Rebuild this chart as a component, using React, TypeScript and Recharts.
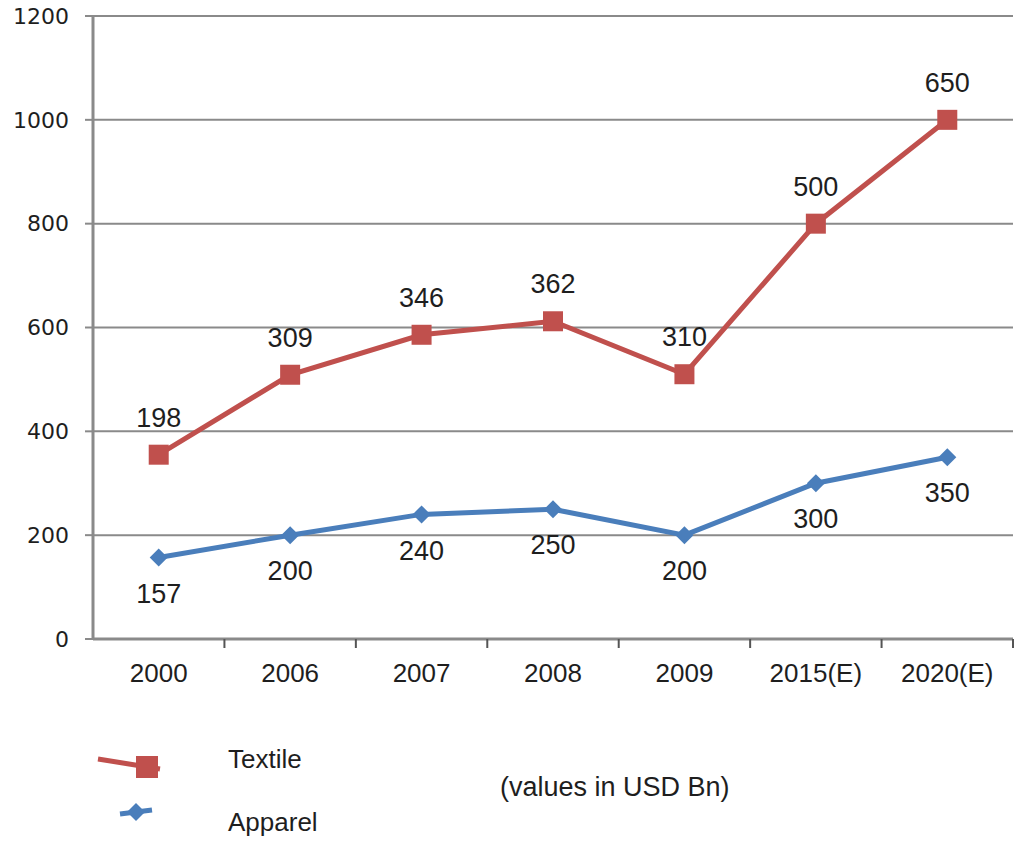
import React from 'react';
import { LineChart, Line, XAxis, YAxis, CartesianGrid, LabelList } from 'recharts';

const categories = ['2000', '2006', '2007', '2008', '2009', '2015(E)', '2020(E)'];
const textile = [198, 309, 346, 362, 310, 500, 650];
const apparel = [157, 200, 240, 250, 200, 300, 350];
const yTicks = [0, 200, 400, 600, 800, 1000, 1200];
const legendNames = ['Textile', 'Apparel'];
const note = '(values in USD Bn)';

const RED = '#C0504D';
const BLUE = '#4A7EBB';
const GRID = '#8a8a8a';
const TEXT = '#1e1e1e';

// Textile is drawn stacked on top of Apparel; labels show raw values.
const data = categories.map((c, i) => ({
  year: c,
  apparel: apparel[i],
  textile: textile[i],
  textileStacked: apparel[i] + textile[i],
}));

const CHART_W = 1016;
const CHART_H = 846;
const MARGIN = { top: 16, right: 3, left: 0, bottom: 0 };
const Y_W = 93;
const X_H = 207;
const STEP = (CHART_W - MARGIN.left - MARGIN.right - Y_W) / categories.length;
const FONT = "'Liberation Sans', Arial, sans-serif";

const SquareDot = (props: any) => {
  const { cx, cy, index } = props;
  if (cx == null || cy == null) return <g key={`s${index}`} />;
  return <rect key={`s${index}`} x={cx - 10} y={cy - 10} width={20} height={20} fill={RED} />;
};

const DiamondDot = (props: any) => {
  const { cx, cy, index } = props;
  if (cx == null || cy == null) return <g key={`d${index}`} />;
  const r = 9;
  return (
    <polygon
      key={`d${index}`}
      points={`${cx},${cy - r} ${cx + r},${cy} ${cx},${cy + r} ${cx - r},${cy}`}
      fill={BLUE}
    />
  );
};

const XTick = (props: any) => {
  const { x, y, payload } = props;
  const axisY = 639;
  return (
    <g>
      <line x1={x + STEP / 2} x2={x + STEP / 2} y1={axisY} y2={axisY + 9} stroke="#555" strokeWidth={2} />
      <text x={x} y={axisY + 34} textAnchor="middle" dominantBaseline="central" fontFamily={FONT} fontSize={26} fill={TEXT}>
        {payload.value}
      </text>
    </g>
  );
};

const LegendOverlay = () => (
  <svg width={700} height={110} style={{ position: 'absolute', left: 90, top: 735, display: 'block' }}>
    <line x1={8} y1={24} x2={70} y2={34} stroke={RED} strokeWidth={5} />
    <rect x={46} y={21} width={22} height={22} fill={RED} />
    <text x={138} y={24} dominantBaseline="central" fontFamily={FONT} fontSize={26} fill={TEXT}>
      {legendNames[0]}
    </text>
    <line x1={30} y1={79} x2={62} y2={75} stroke={BLUE} strokeWidth={5} />
    <polygon points="46,68 55,77 46,86 37,77" fill={BLUE} />
    <text x={138} y={87} dominantBaseline="central" fontFamily={FONT} fontSize={26} fill={TEXT}>
      {legendNames[1]}
    </text>
    <text x={410} y={52} dominantBaseline="central" fontFamily={FONT} fontSize={27} fill={TEXT}>
      {note}
    </text>
  </svg>
);

export default function App() {
  return (
    <div style={{ position: 'absolute', left: 0, top: 0, width: CHART_W, height: CHART_H, background: '#fff' }}>
      <LineChart width={CHART_W} height={CHART_H} data={data} margin={MARGIN}>
        <CartesianGrid vertical={false} stroke={GRID} strokeWidth={2} />
        <XAxis
          dataKey="year"
          height={X_H}
          padding={{ left: STEP / 2, right: STEP / 2 }}
          axisLine={{ stroke: GRID, strokeWidth: 3 }}
          tickLine={false}
          tick={<XTick />}
          interval={0}
        />
        <YAxis
          domain={[0, 1200]}
          ticks={yTicks}
          interval={0}
          width={Y_W}
          axisLine={{ stroke: GRID, strokeWidth: 3 }}
          tickLine={{ stroke: GRID, strokeWidth: 2 }}
          tickSize={8}
          tickMargin={16}
          tick={{ fontFamily: "'DejaVu Sans', sans-serif", fontSize: 22, fill: TEXT }}
        />
        <Line
          type="linear"
          dataKey="apparel"
          stroke={BLUE}
          strokeWidth={5}
          dot={<DiamondDot />}
          activeDot={false}
          isAnimationActive={false}
        >
          <LabelList dataKey="apparel" position="bottom" offset={26} fontFamily={FONT} fontSize={27} fill={TEXT} />
        </Line>
        <Line
          type="linear"
          dataKey="textileStacked"
          stroke={RED}
          strokeWidth={5}
          dot={<SquareDot />}
          activeDot={false}
          isAnimationActive={false}
        >
          <LabelList dataKey="textile" position="top" offset={28} fontFamily={FONT} fontSize={27} fill={TEXT} />
        </Line>
      </LineChart>
      <LegendOverlay />
    </div>
  );
}
